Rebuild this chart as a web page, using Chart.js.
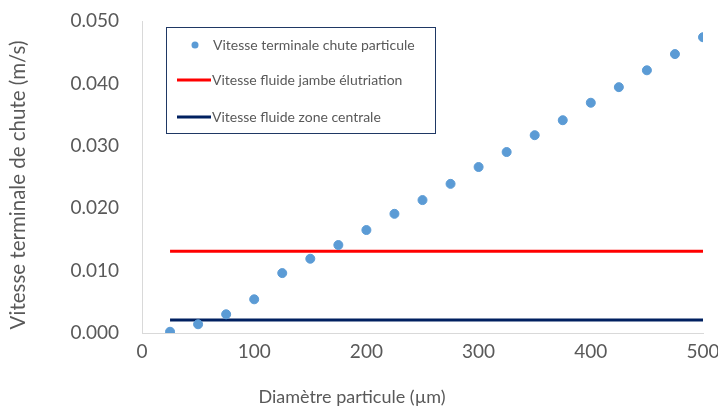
<!DOCTYPE html>
<html>
<head>
<meta charset="utf-8">
<script src="https://cdn.jsdelivr.net/npm/chart.js@4.4.0/dist/chart.umd.min.js"></script>
<style>
  html, body { margin: 0; padding: 0; background: #fff; }
  #wrap { width: 718px; height: 410px; }
</style>
</head>
<body>
<div id="wrap"><canvas id="chart" width="718" height="410"></canvas></div>
<script>
// Particle diameters (µm)
const diameters = [25, 50, 75, 100, 125, 150, 175, 200, 225, 250, 275, 300, 325, 350, 375, 400, 425, 450, 475, 500];
// Terminal settling velocity (m/s)
const terminalSpeed = [0.0002, 0.0014, 0.0030, 0.0054, 0.0096, 0.0119, 0.0141, 0.0165, 0.0191, 0.0213,
                       0.0239, 0.0266, 0.0290, 0.0317, 0.0341, 0.0369, 0.0394, 0.0421, 0.0447, 0.0474];
// Fluid velocities (m/s), constant over the diameter range
const elutriationSpeed = 0.0131;
const centralSpeed = 0.0021;
const lineRange = [25, 500];

const seriesLabels = [
    'Vitesse terminale chute particule',
    'Vitesse fluide jambe élutriation',
    'Vitesse fluide zone centrale'
];
const xTitle = 'Diamètre particule (µm)';
const yTitle = 'Vitesse terminale de chute (m/s)';

const FONT = 'Lato, "Open Sans", sans-serif';
const GREY = '#595959';

// legend inside the plot + axis titles placed like Excel does
const boxLegend = {
    id: 'boxLegend',
    afterDraw(chart) {
        const ctx = chart.ctx;
        const x0 = 166.5, y0 = 27.5, w = 269, h = 106;
        ctx.save();
        ctx.fillStyle = '#fff';
        ctx.fillRect(x0, y0, w, h);
        ctx.strokeStyle = '#1f3864';
        ctx.lineWidth = 1;
        ctx.strokeRect(x0, y0, w, h);
        ctx.font = '14px ' + FONT;
        ctx.textBaseline = 'middle';
        const rows = [45, 80, 117];
        chart.data.datasets.forEach((ds, i) => {
            const y = rows[i];
            if (i === 0) {
                ctx.beginPath();
                ctx.arc(195, y, 3.5, 0, Math.PI * 2);
                ctx.fillStyle = ds.backgroundColor;
                ctx.fill();
                ctx.fillStyle = GREY;
                ctx.fillText(ds.label, 213, y);
            } else {
                ctx.beginPath();
                ctx.moveTo(177, y);
                ctx.lineTo(211, y);
                ctx.strokeStyle = ds.borderColor;
                ctx.lineWidth = 3;
                ctx.stroke();
                ctx.fillStyle = GREY;
                ctx.fillText(ds.label, 212, y);
            }
        });

        // axis titles
        ctx.fillStyle = GREY;
        ctx.textAlign = 'center';
        ctx.font = '18px ' + FONT;
        ctx.fillText(xTitle, 352, 397);
        ctx.translate(18, 185);
        ctx.rotate(-Math.PI / 2);
        ctx.font = '20.5px ' + FONT;
        ctx.fillText(yTitle, 0, 0);
        ctx.restore();
    }
};

const ctx = document.getElementById('chart').getContext('2d');
new Chart(ctx, {
    type: 'scatter',
    data: {
        datasets: [
            {
                label: seriesLabels[0],
                data: diameters.map((d, i) => ({ x: d, y: terminalSpeed[i] })),
                backgroundColor: '#5b9bd5',
                borderColor: '#5b9bd5',
                pointRadius: 4.5,
                order: 0
            },
            {
                type: 'line',
                label: seriesLabels[1],
                data: lineRange.map(d => ({ x: d, y: elutriationSpeed })),
                borderColor: '#ff0000',
                borderWidth: 3,
                pointRadius: 0,
                order: 1
            },
            {
                type: 'line',
                label: seriesLabels[2],
                data: lineRange.map(d => ({ x: d, y: centralSpeed })),
                borderColor: '#002060',
                borderWidth: 3,
                pointRadius: 0,
                order: 2
            }
        ]
    },
    options: {
        responsive: false,
        animation: false,
        layout: { padding: { top: 21, right: 15, bottom: 0, left: 0 } },
        plugins: {
            legend: { display: false },
            tooltip: { enabled: false }
        },
        scales: {
            x: {
                type: 'linear',
                min: 0, max: 500,
                grid: { display: false },
                border: { display: true, color: '#d9d9d9', width: 1 },
                ticks: { stepSize: 100, color: GREY, font: { family: FONT, size: 19 }, padding: -1 },
                afterFit(axis) {
                    axis.height = 77;
                    axis.paddingLeft = 0;
                    axis.paddingRight = 0;
                }
            },
            y: {
                min: 0, max: 0.05,
                grid: { display: false },
                border: { display: true, color: '#d9d9d9', width: 1 },
                ticks: { stepSize: 0.01, color: GREY, font: { family: FONT, size: 19 }, padding: 15,
                         callback: v => v.toFixed(3) },
                afterFit(axis) {
                    axis.width = 142;
                    axis.paddingTop = 0;
                    axis.paddingBottom = 0;
                }
            }
        }
    },
    plugins: [boxLegend]
});
</script>
</body>
</html>
